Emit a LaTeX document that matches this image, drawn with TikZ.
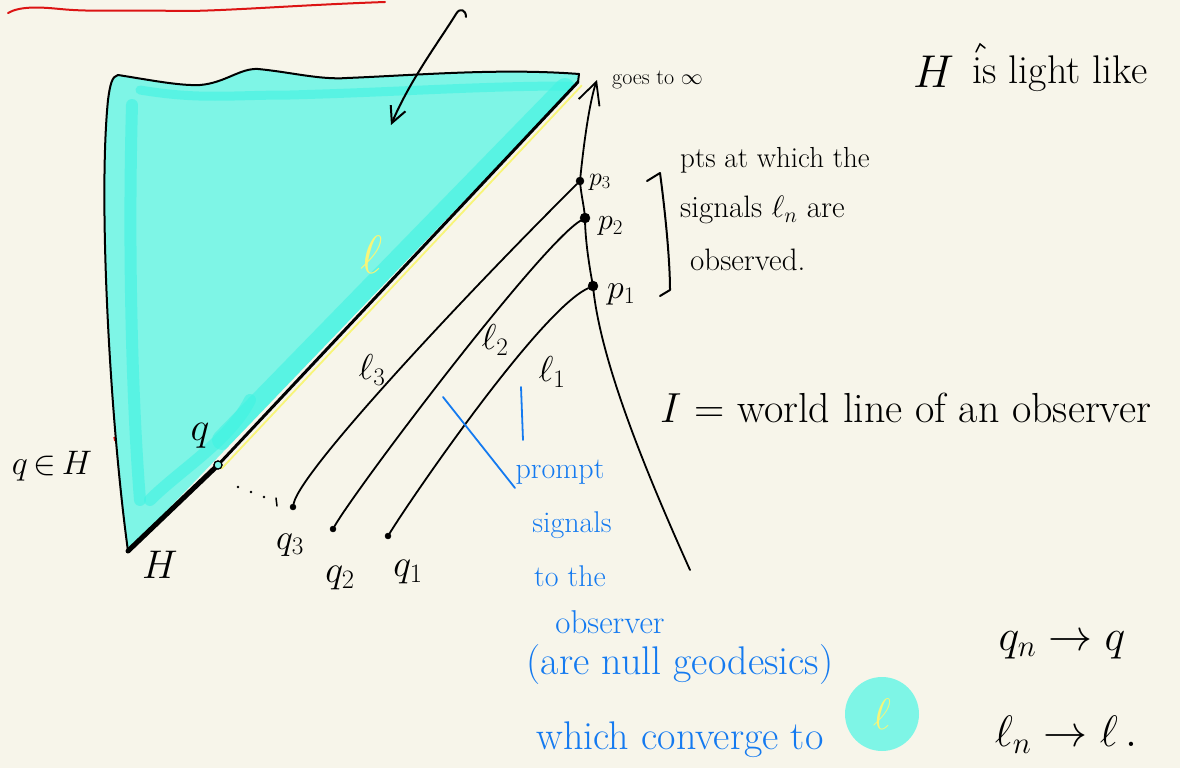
\RequirePackage{fix-cm}
\documentclass[tikz,border=0pt]{standalone}
\usepackage{fontspec}
\usetikzlibrary{arrows.meta}
\definecolor{paper}{RGB}{247,245,234}
\definecolor{cyanfill}{RGB}{126,245,230}
\definecolor{cyanbright}{RGB}{64,243,226}
\definecolor{hlyellow}{RGB}{248,245,120}
\definecolor{inkblue}{RGB}{20,122,240}
\definecolor{inkred}{RGB}{220,20,20}
\begin{document}
\begin{tikzpicture}[x=1pt,y=-1pt,
  ink/.style={line width=2pt, line cap=round, line join=round},
  lbl/.style={inner sep=0pt, font=\fontsize{#1}{#1}\selectfont},
  blbl/.style={inner sep=0pt, text=inkblue, font=\fontsize{#1}{#1}\selectfont},
  pdot/.style={circle, fill=black, draw=black, inner sep=0pt, minimum size=#1},
  barb/.style={-{Straight Barb[length=#1,width=#1]}},
  streak/.style={cyanbright, line cap=round, opacity=0.6, line width=#1}
]
\fill[paper] (0,0) rectangle (1180,768);
\useasboundingbox (0,0) rectangle (1180,768);
\clip (0,0) rectangle (1180,768);

% red wavy line
\draw[inkred, line width=2pt, line cap=round] (8,13) .. controls (20,6) and (40,7) .. (60,9)
  .. controls (90,12) and (120,10) .. (190,11) .. controls (240,10) and (300,5) .. (385,2);
\draw[inkred, line width=1.5pt] (114,437) -- (115,441);

% coordinates of the triangle
\coordinate (TL) at (118,75);
\coordinate (TR) at (579,74);
\coordinate (HB) at (128,551);
\coordinate (Ht) at (578,82);

% fill
\fill[cyanfill] (TL) .. controls (150,80) and (180,86) .. (200,85)
  .. controls (225,83) and (240,68) .. (258,69)
  .. controls (290,72) and (320,80) .. (347,78)
  .. controls (420,75) and (500,68) .. (TR) -- (Ht) -- (HB)
  .. controls (110,420) and (98,200) .. (108,100) .. controls (110,85) and (112,76) .. (TL);
\begin{scope}
\clip (TL) .. controls (150,80) and (180,86) .. (200,85)
  .. controls (225,83) and (240,68) .. (258,69)
  .. controls (290,72) and (320,80) .. (347,78)
  .. controls (420,75) and (500,68) .. (TR) -- (Ht) -- (HB)
  .. controls (110,420) and (98,200) .. (108,100) .. controls (110,85) and (112,76) .. (TL);
\draw[streak=12pt] (132,105) .. controls (128,250) and (132,400) .. (140,500);
\draw[streak=9pt] (140,90) .. controls (200,100) and (230,95) .. (290,95)
  .. controls (400,92) and (480,86) .. (570,86);
\draw[streak=20pt] (222,440) -- (565,88);
\draw[streak=12pt] (150,500) .. controls (180,470) and (230,440) .. (250,400);
\end{scope}

% outline
\draw[ink] (TL) .. controls (150,80) and (180,86) .. (200,85)
  .. controls (225,83) and (240,68) .. (258,69)
  .. controls (290,72) and (320,80) .. (347,78)
  .. controls (420,75) and (500,68) .. (TR) -- (Ht);
\draw[ink] (HB) .. controls (110,420) and (98,200) .. (108,100) .. controls (110,85) and (112,76) .. (TL);

% points
\node[circle, draw=black, line width=1.2pt, inner sep=0pt, minimum size=8pt] (q) at (218,465) {};
\node[pdot=6pt] (q3) at (293,507) {};
\node[pdot=6pt] (q2) at (333,529) {};
\node[pdot=6pt] (q1) at (388,536) {};
\coordinate (Ibot) at (690,570);
\coordinate (Itop) at (597,80);
\node[pdot=8pt] (p3) at (580,181) {};
\node[pdot=10pt] (p2) at (585,218) {};
\node[pdot=10pt] (p1) at (593,286) {};

% hypotenuse H
\draw[line width=5pt, line cap=round] (HB) -- (q.center);
\draw[line width=3pt, line cap=round] (q.center) -- (Ht);
\draw[hlyellow, line width=1.8pt, line cap=round] ([shift={(3.6,3.6)}]q.center) -- ([shift={(3.6,3.6)}]Ht);
\node[circle, draw=black, fill=cyanfill, line width=1.2pt, inner sep=0pt, minimum size=8pt] at (q) {};

% arrow into triangle
\coordinate (ahook) at (466,17);
\coordinate (atip) at (391,125);
\draw[ink, barb=16pt] (ahook) .. controls (466,10) and (460,7) .. (456,14)
  .. controls (440,40) and (410,80) .. (atip);

% observer world line
\draw[ink, line width=1.8pt, barb=22pt] (Ibot) .. controls (645,470) and (600,360) .. (p1.center)
  .. controls (588,260) and (585,235) .. (p2.center)
  .. controls (584,205) and (581,195) .. (p3.center)
  .. controls (584,140) and (590,100) .. (Itop);

% signals
\draw[ink, line width=1.8pt] (q3) .. controls (300,470) and (480,280) .. (p3);
\draw[ink, line width=1.8pt] (q2) .. controls (355,490) and (540,245) .. (p2);
\draw[ink, line width=1.8pt] (q1) .. controls (410,500) and (540,310) .. (p1);

% dots
\foreach \x/\y in {238/487, 251/492, 264/497}
  \fill (\x,\y) circle (1.3pt);
\draw[line width=1.5pt, line cap=round] (276,498) -- (277,506);

% labels (black)
\node[lbl=22, anchor=west] (goes) at (612,80) {goes to $\infty$};
\node[lbl=26, anchor=west] (p3l) at (589,182) {$p_3$};
\node[lbl=30, anchor=west] (p2l) at (598,226) {$p_2$};
\node[lbl=34, anchor=west] (p1l) at (607,294) {$p_1$};
\draw[ink] (647,181) -- (660,173) .. controls (665,210) and (670,260) .. (670,290) -- (660,296);
\node[lbl=29, anchor=west] (pts1) at (680,160) {pts at which the};
\node[lbl=31, anchor=west] (pts2) at (680,210) {signals $\ell_n$ are};
\node[lbl=31, anchor=west] (pts3) at (690,260) {observed.};
\node[lbl=42, anchor=west] (Ilbl) at (660,408) {$I$ = world line of an observer};
\node[lbl=36] (l3l) at (372,370) {$\ell_3$};
\node[lbl=36] (l2l) at (495,340) {$\ell_2$};
\node[lbl=36] (l1l) at (552,372) {$\ell_1$};
\node[lbl=34] (qinH) at (52,466) {$q\,{\in}\,H$};
\node[lbl=40] (Hl) at (160,565) {$H$};
\node[lbl=40] (ql) at (200,436) {$q$};
\node[lbl=36] (q3l) at (290,545) {$q_3$};
\node[lbl=38] (q2l) at (340,578) {$q_2$};
\node[lbl=38] (q1l) at (408,572) {$q_1$};
\node[lbl=54, text=hlyellow] (lyel) at (372,255) {$\ell$};
\node[lbl=46, anchor=west] (Hlight) at (913,72) {$H$};
\node[lbl=40, anchor=west] (islight) at (972,74) {is light like};
\draw[line width=1.5pt, line cap=round] (976,52) -- (980,44) -- (985,48);
\node[lbl=44] (qnq) at (1062,645) {$q_n \;{\to}\; q$};
\node[lbl=44] (lnl) at (1066,735) {$\ell_n \;{\to}\; \ell\,.$};

% blue annotations
\coordinate (bl1) at (443,397);
\draw[inkblue, line width=1.8pt, line cap=round] (bl1) -- (515,488);
\draw[inkblue, line width=1.8pt, line cap=round] (521,387) -- (523,440);
\node[blbl=30] (b1) at (560,472) {prompt};
\node[blbl=30] (b2) at (572,525) {signals};
\node[blbl=30] (b3) at (570,576) {to the};
\node[blbl=33] (b4) at (610,622) {observer};
\node[blbl=40] (b5) at (680,665) {(are null geodesics)};
\node[blbl=40] (b6) at (680,740) {which converge to};
\node[circle, fill=cyanfill, minimum size=74pt, inner sep=0pt, text=hlyellow,
  font=\fontsize{44}{44}\selectfont] (lc) at (882,714) {$\ell$};
\end{tikzpicture}
\end{document}
